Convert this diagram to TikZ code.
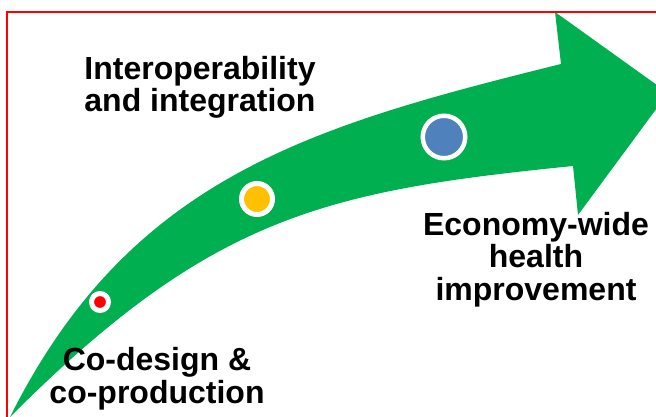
\documentclass[tikz,border=0pt]{standalone}
\usepackage{fontspec}
\setmainfont{Liberation Sans}
\definecolor{arrowgreen}{HTML}{00B050}
\definecolor{dotyellow}{HTML}{FFC000}
\definecolor{dotblue}{HTML}{4F81BD}

\begin{document}
\begin{tikzpicture}[x=1pt,y=-1pt,
        stage/.style={circle,draw=white,inner sep=0pt},
        caption/.style={anchor=base,align=center,font=\fontsize{32}{32.5}\selectfont\bfseries}]
        \useasboundingbox (0,0) rectangle (656,417);
        \clip (0,0) rectangle (656,417);
        \fill[arrowgreen] (10,417) .. controls (130,177) and (311,126) .. (561,64)
            -- (555,12) -- (668,93) -- (578,215) -- (573,166)
            .. controls (323,191) and (210,217) .. (10,417) -- cycle;
        \node[stage,fill=red,line width=5pt,minimum size=17pt] (reddot) at (100,302) {};
        \node[stage,fill=dotyellow,line width=5pt,minimum size=31pt] (yellowdot) at (257,199) {};
        \node[stage,fill=dotblue,line width=4.5pt,minimum size=42.5pt] (bluedot) at (444,137) {};
        \node[caption] (interop) at (200,112) {Interoperability\\and integration};
        \node[caption] (codesign) at (157,403) {Co-design \&\\co-production};
        \node[caption] (economy) at (536,300) {Economy-wide\\health\\improvement};
        \draw[red,line width=2pt] (7,12) rectangle (700,450);
    \end{tikzpicture}
\end{document}
